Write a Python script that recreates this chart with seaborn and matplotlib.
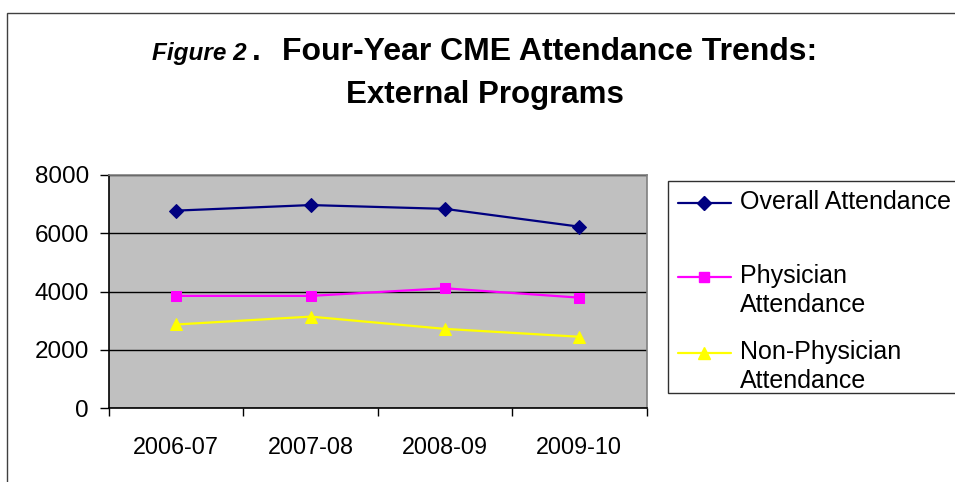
import matplotlib
matplotlib.use("Agg")
import matplotlib.pyplot as plt
from matplotlib.lines import Line2D
from matplotlib.patches import Rectangle
import seaborn as sns
import pandas as pd

seasons = ["2006-07", "2007-08", "2008-09", "2009-10"]
overall = [6770, 6960, 6830, 6220]
physician = [3850, 3850, 4110, 3790]
non_physician = [2870, 3140, 2720, 2450]
yticks = [0, 2000, 4000, 6000, 8000]

series = [
    ("Overall Attendance", overall, "#000080", "D", 7),
    ("Physician\nAttendance", physician, "#FF00FF", "s", 7),
    ("Non-Physician\nAttendance", non_physician, "#FFFF00", "^", 8.5),
]

sns.set_theme(style="white")
plt.rcParams["font.family"] = ["Liberation Sans", "DejaVu Sans"]
plt.rcParams["text.color"] = "black"
plt.rcParams["xtick.color"] = "black"
plt.rcParams["ytick.color"] = "black"
plt.rcParams["axes.labelcolor"] = "black"

W, H = 955, 482
fig = plt.figure(figsize=(W / 100, H / 100), dpi=100)
fig.patch.set_facecolor("white")


def fx(x):
    return x / W


def fy(y):
    return 1 - y / H


# outer chart frame
fig.add_artist(Rectangle((fx(7), fy(700)), fx(1200), fy(13) - fy(700),
                         transform=fig.transFigure, fill=False,
                         edgecolor="#404040", linewidth=1.0))

# axes
left, right, top, bottom = 109, 646.5, 174.7, 408.3
ax = fig.add_axes([fx(left), fy(bottom), fx(right - left), fy(top) - fy(bottom)])
ax.set_facecolor("#C0C0C0")

for name, vals, color, marker, ms in series:
    df = pd.DataFrame({"season": seasons, "value": vals})
    sns.lineplot(data=df, x="season", y="value", ax=ax, color=color,
                 marker=marker, markersize=ms, markeredgecolor=color,
                 linewidth=1.6, sort=False, legend=False)

ax.set_xlim(-0.5, len(seasons) - 0.5)
ax.set_ylim(yticks[0], yticks[-1])
ax.set_yticks(yticks)
ax.set_yticklabels([str(v) for v in yticks], fontsize=17.5, color="black")
ax.yaxis.grid(True, color="black", linewidth=1.0)
ax.set_axisbelow(True)

# x: boundary ticks (major, unlabeled), category labels at centres (minor)
ax.set_xticks([i - 0.5 for i in range(len(seasons) + 1)])
ax.set_xticklabels([])
ax.set_xticks(range(len(seasons)), minor=True)
ax.set_xticklabels(seasons, minor=True, fontsize=16.8, color="black")
ax.tick_params(axis="x", which="major", length=6, width=1, color="black",
               direction="out", bottom=True)
ax.tick_params(axis="x", which="minor", length=0, pad=20)
ax.tick_params(axis="y", length=6.5, width=1, color="black", direction="out",
               left=True, pad=8)
ax.set_xlabel("")
ax.set_ylabel("")

for s in ["left", "bottom"]:
    ax.spines[s].set_color("black")
    ax.spines[s].set_linewidth(1.2)
for s in ["top", "right"]:
    ax.spines[s].set_color("#808080")
    ax.spines[s].set_linewidth(1.2)

# title
fig.text(fx(152), fy(60), "Figure 2", fontsize=17.5, fontweight="bold",
         fontstyle="italic", ha="left", va="baseline")
fig.text(fx(252), fy(60), ".", fontsize=22.5, fontweight="bold",
         ha="left", va="baseline")
fig.text(fx(282), fy(60), "Four-Year CME Attendance Trends:", fontsize=23,
         fontweight="bold", ha="left", va="baseline")
fig.text(fx(485), fy(103), "External Programs", fontsize=22.5,
         fontweight="bold", ha="center", va="baseline")

# legend (drawn as a box with handles and labels)
fig.add_artist(Rectangle((fx(668), fy(393)), fx(320), fy(181) - fy(393),
                         transform=fig.transFigure, fill=True,
                         facecolor="white", edgecolor="#303030",
                         linewidth=1.0))
label_rows = [203, 277, 353]
for (name, vals, color, marker, ms), yrow in zip(series, label_rows):
    fig.add_artist(Line2D([fx(678), fx(731)], [fy(yrow), fy(yrow)],
                          transform=fig.transFigure, color=color,
                          linewidth=1.6))
    fig.add_artist(Line2D([fx(704)], [fy(yrow)], transform=fig.transFigure,
                          color=color, marker=marker, markersize=ms,
                          markeredgecolor=color, linestyle="none"))
    fig.text(fx(740), fy(yrow - 13), name, fontsize=18, ha="left", va="top",
             linespacing=1.28)

fig.savefig("out.png", dpi=100)
